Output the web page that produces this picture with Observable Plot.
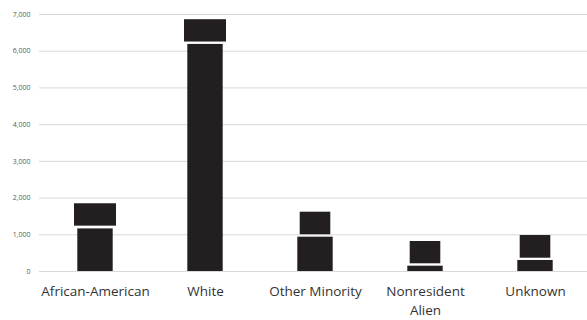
<!DOCTYPE html>
<html>
<head>
<meta charset="utf-8">
<script src="https://cdn.jsdelivr.net/npm/d3@7"></script>
<script src="https://cdn.jsdelivr.net/npm/@observablehq/plot@0.6"></script>
<style>
  html, body { margin: 0; padding: 0; background: #ffffff; }
</style>
</head>
<body>
<div id="chart"></div>
<script>
// Enrollment by group: a base column plus a cap segment above it
const groups = ["African-American", "White", "Other Minority", "Nonresident\nAlien", "Unknown"];
const baseValues = [1160, 6185, 935, 145, 300];
const capLow = [1235, 6250, 1000, 210, 362];
const capHigh = [1845, 6858, 1615, 817, 980];
const yTicks = [0, 1000, 2000, 3000, 4000, 5000, 6000, 7000];

const rows = groups.map((g, i) => ({
  group: g,
  value: baseValues[i],
  capLow: capLow[i],
  capHigh: capHigh[i]
}));

const wideCaps = ["African-American", "White"];
const ink = "#231f20";

const chart = Plot.plot({
  width: 587,
  height: 320,
  marginTop: 14,
  marginBottom: 49,
  marginLeft: 39,
  marginRight: -3,
  style: { fontFamily: "'Open Sans', Lato, sans-serif", background: "#ffffff" },
  x: { domain: groups, padding: 0, label: null },
  y: { domain: [0, 7000], label: null },
  marks: [
    Plot.ruleY(yTicks, { stroke: "#d9d9d9", strokeWidth: 1 }),
    Plot.rectY(rows, { x: "group", y: "value", fill: ink, insetLeft: 37.3, insetRight: 37.3 }),
    Plot.rectY(rows, {
      filter: d => wideCaps.includes(d.group),
      x: "group", y1: "capLow", y2: "capHigh", fill: ink, insetLeft: 34, insetRight: 34
    }),
    Plot.rectY(rows, {
      filter: d => !wideCaps.includes(d.group),
      x: "group", y1: "capLow", y2: "capHigh", fill: ink, insetLeft: 39.7, insetRight: 39.7
    }),
    Plot.axisY({
      ticks: yTicks, tickFormat: d3.format(","), tickSize: 0, tickPadding: 9,
      fontSize: 7, fill: "#595959", label: null
    }),
    Plot.axisX({
      tickSize: 0, tickPadding: 11, fontSize: 13.5, fill: "#333333", lineHeight: 1.42, label: null
    })
  ]
});

document.getElementById("chart").appendChild(chart);
</script>
</body>
</html>
